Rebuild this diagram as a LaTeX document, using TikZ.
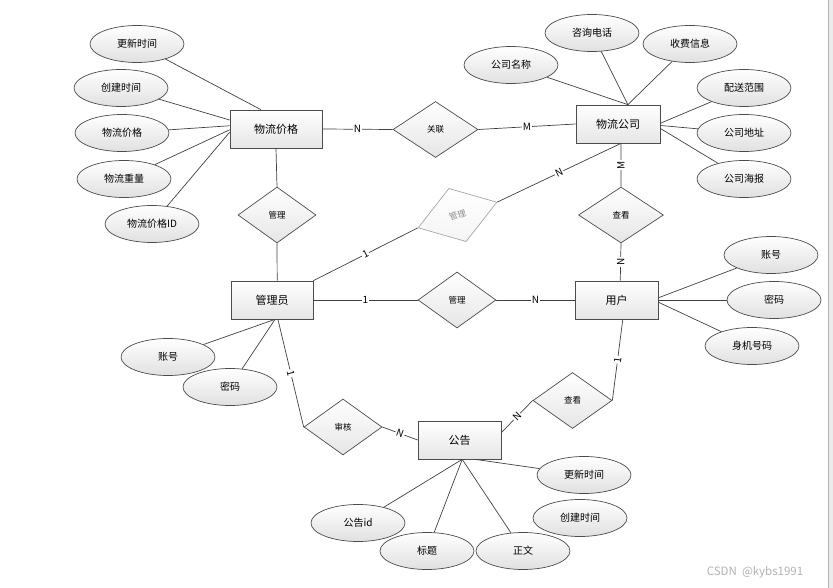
\documentclass[tikz,border=0pt]{standalone}
\usepackage{fontspec}
\setmainfont{Noto Sans CJK SC}
\usepackage{tikz}
\usetikzlibrary{shapes}
\usetikzlibrary{shadows}
\tikzset{
	entity/.style={rectangle,draw=black!70,line width=0.7pt,top color=white,bottom color=black!10,
		minimum width=83pt,minimum height=38pt,inner sep=0pt,font=\fontsize{11pt}{13pt}\selectfont,
		drop shadow={shadow xshift=1.2pt,shadow yshift=-1.2pt,opacity=0.25}},
	attr/.style={ellipse,draw=black!70,line width=0.7pt,top color=white,bottom color=black!12,
		minimum width=94pt,minimum height=37pt,inner sep=0pt,font=\fontsize{10pt}{12pt}\selectfont},
	rel/.style={diamond,draw=black!70,line width=0.7pt,top color=white,bottom color=black!10,
		minimum width=78pt,minimum height=56pt,inner sep=0pt,font=\fontsize{8.5pt}{10pt}\selectfont},
	faded rel/.style={draw=black!35,top color=white,bottom color=black!4,text=black!45,rotate=18},
	link/.style={draw=black!75,line width=0.7pt},
	card/.style={fill=white,inner sep=1pt,font=\fontsize{10pt}{12pt}\selectfont}
}

\begin{document}
\begin{tikzpicture}[x=1pt,y=-1pt]
	\useasboundingbox (0,0) rectangle (833,588);
	\fill [black!8] (828,0) rectangle (833,588);
	\draw [black!30,line width=0.8pt] (828,0) -- (828,588);

	\node [entity,minimum width=92pt] (1) at (276,129) {物流价格};
	\node [entity,minimum width=84pt] (2) at (618,124) {物流公司};
	\node [entity,minimum width=82pt] (3) at (272,300) {管理员};
	\node [entity] (4) at (616.5,300) {用户};
	\node [entity] (5) at (459.5,440) {公告};

	\node [rel,minimum width=85pt] (6) at (435.5,129.5) {关联};
	\node [rel] (7) at (277,215) {管理};
	\node [rel,faded rel,minimum width=83pt] (8) at (457.5,215) {管理};
	\node [rel,minimum width=85pt] (9) at (621,215) {查看};
	\node [rel] (10) at (457,300) {管理};
	\node [rel] (11) at (343,427) {审核};
	\node [rel,minimum width=79pt] (12) at (572.5,400.5) {查看};

	\node [attr] (13) at (137,44) {更新时间};
	\node [attr] (14) at (121,88) {创建时间};
	\node [attr] (15) at (122,133) {物流价格};
	\node [attr] (16) at (124,179) {物流重量};
	\node [attr] (17) at (152,224) {物流价格ID};
	\node [attr] (18) at (511,65) {公司名称};
	\node [attr] (19) at (592,33) {咨询电话};
	\node [attr] (20) at (690,44) {收费信息};
	\node [attr] (21) at (744,88) {配送范围};
	\node [attr] (22) at (744,133) {公司地址};
	\node [attr] (23) at (744,179) {公司海报};
	\node [attr] (24) at (168,357) {账号};
	\node [attr] (25) at (230,387) {密码};
	\node [attr] (26) at (771,255) {账号};
	\node [attr] (27) at (774,300) {密码};
	\node [attr] (28) at (752,346) {身机号码};
	\node [attr] (29) at (358,523) {公告id};
	\node [attr] (30) at (427,551) {标题};
	\node [attr] (31) at (523,551) {正文};
	\node [attr] (32) at (584,475) {更新时间};
	\node [attr] (33) at (580,518) {创建时间};

	\draw [link] (1.east) -- node [card] {N} (6.west);
	\draw [link] (6.east) -- node [card] {M} (2.west);
	\draw [link] (1.south) -- (7.north);
	\draw [link] (7.south) -- (3.75);
	\draw [link] (3.north east) -- node [card,sloped] {1} (8.west);
	\draw [link] (8.east) -- node [card,sloped] {N} (2.-81);
	\draw [link] (9.north) -- node [card,rotate=90] {M} (2.-81);
	\draw [link] (9.south) -- node [card,rotate=90] {N} (4.79);
	\draw [link] (3.east) -- node [card] {1} (10.west);
	\draw [link] (10.east) -- node [card] {N} (4.west);
	\draw [link] (3.-73) -- node [card,sloped] {1} (11.west);
	\draw [link] (11.east) -- node [card,sloped] {N} (5.west);
	\draw [link] (4.-72) -- node [card,sloped] {1} (12.east);
	\draw [link] (12.west) -- node [card,sloped] {N} (5.10);

	\draw [link] (13) -- (1.128);
	\draw [link] (14) -- (1.169);
	\draw [link] (15) -- (1.176);
	\draw [link] (16) -- (1.181);
	\draw [link] (17) -- (1.184);
	\draw [link] (18) -- (2.63);
	\draw [link] (19) -- (2.63);
	\draw [link] (20) -- (2.63);
	\draw [link] (21) -- (2.1);
	\draw [link] (22) -- (2.-2);
	\draw [link] (23) -- (2.-6);
	\draw [link] (24) -- (3.-81);
	\draw [link] (25) -- (3.-81);
	\draw [link] (26) -- (4.3);
	\draw [link] (27) -- (4.east);
	\draw [link] (28) -- (4.-3);
	\draw [link] (29) -- (5.-82);
	\draw [link] (30) -- (5.-82);
	\draw [link] (31) -- (5.-82);
	\draw [link] (32) -- (5.-51);

	\node [text=black!30,font=\fontsize{11.5pt}{13pt}\selectfont] (34) at (755,572) {CSDN\ \ @kybs1991};
\end{tikzpicture}
\end{document}
